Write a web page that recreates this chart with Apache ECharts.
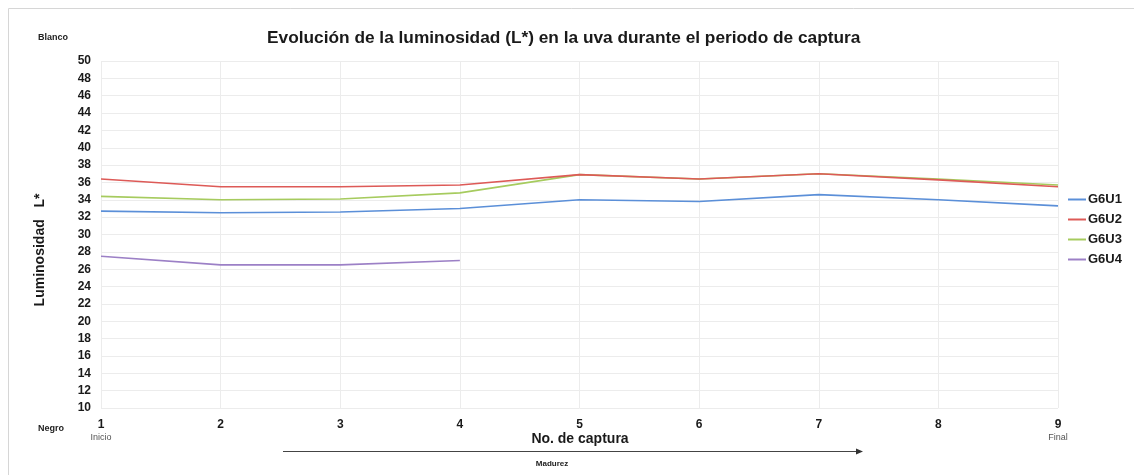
<!DOCTYPE html>
<html>
<head>
<meta charset="utf-8">
<script src="https://cdn.jsdelivr.net/npm/echarts@6/dist/echarts.min.js"></script>
<style>
  html, body { margin: 0; padding: 0; background: #ffffff; }
  #chart { width: 1134px; height: 475px; }
</style>
</head>
<body>
<div id="chart"></div>
<script>
// Capture numbers (x axis) and L* values per sample group
const capturas = ['1', '2', '3', '4', '5', '6', '7', '8', '9'];
const yTicks = { min: 10, max: 50, step: 2 };

const g6u1 = [32.7, 32.5, 32.6, 33.0, 34.0, 33.8, 34.6, 34.0, 33.3];
const g6u2 = [36.4, 35.5, 35.5, 35.7, 36.9, 36.4, 37.0, 36.3, 35.5];
const g6u3 = [34.4, 34.0, 34.1, 34.8, 36.9, 36.4, 37.0, 36.4, 35.7];
const g6u4 = [27.5, 26.5, 26.5, 27.0, null, null, null, null, null];

const seriesNames = ['G6U1', 'G6U2', 'G6U3', 'G6U4'];
const seriesColors = ['#5b8fd8', '#dd5a57', '#a6cb5e', '#9c80c6'];
const seriesData = [g6u1, g6u2, g6u3, g6u4];

const FONT = 'Liberation Sans, Arial, sans-serif';

const chart = echarts.init(document.getElementById('chart'), null, { renderer: 'canvas' });

chart.setOption({
  backgroundColor: '#ffffff',
  animation: false,
  title: {
    text: 'Evolución de la luminosidad (L*) en la uva durante el periodo de captura',
    left: 262,
    top: 25,
    textStyle: { fontFamily: FONT, fontSize: 17.3, fontWeight: 'bold', color: '#1a1a1a' }
  },
  legend: {
    orient: 'vertical',
    left: 1063,
    top: 188,
    icon: 'rect',
    itemWidth: 18,
    itemHeight: 2,
    itemGap: 7,
    data: seriesNames,
    textStyle: { fontFamily: FONT, fontSize: 13, fontWeight: 'bold', color: '#1a1a1a', padding: [0, 0, 0, -3] }
  },
  grid: { left: 101, right: 76, top: 61, bottom: 67 },
  xAxis: {
    type: 'category',
    data: capturas,
    boundaryGap: false,
    axisLine: { show: false },
    axisTick: { show: false },
    splitLine: { show: true, lineStyle: { color: '#ececec', width: 1 } },
    axisLabel: {
      margin: 10,
      fontFamily: FONT,
      formatter: function (v) {
        if (v === '1') return '{n|1}\n{s|Inicio}';
        if (v === '9') return '{n|9}\n{s|Final}';
        return '{n|' + v + '}';
      },
      rich: {
        n: { fontFamily: FONT, fontSize: 12, fontWeight: 'bold', color: '#1a1a1a', lineHeight: 14 },
        s: { fontFamily: FONT, fontSize: 9, color: '#555555', lineHeight: 12 }
      }
    }
  },
  yAxis: {
    type: 'value',
    min: yTicks.min,
    max: yTicks.max,
    interval: yTicks.step,
    axisLine: { show: false },
    axisTick: { show: false },
    splitLine: { show: true, lineStyle: { color: '#ececec', width: 1 } },
    axisLabel: { margin: 10, fontFamily: FONT, fontSize: 12, fontWeight: 'bold', color: '#1a1a1a' }
  },
  series: seriesNames.map(function (name, i) {
    return {
      name: name,
      type: 'line',
      data: seriesData[i],
      symbol: 'none',
      connectNulls: false,
      color: seriesColors[i],
      lineStyle: { width: 1.6, color: seriesColors[i] },
      z: 10 - i
    };
  }),
  graphic: [
    // outer frame
    { type: 'rect', shape: { x: 8.5, y: 8.5, width: 1140, height: 480 },
      style: { fill: 'none', stroke: '#d6d6d6', lineWidth: 1 }, silent: true },
    { type: 'text', left: 38, top: 33,
      style: { text: 'Blanco', fontFamily: FONT, fontSize: 9, fontWeight: 'bold', fill: '#222' } },
    { type: 'text', left: 38, top: 424,
      style: { text: 'Negro', fontFamily: FONT, fontSize: 9, fontWeight: 'bold', fill: '#222' } },
    { type: 'text', x: 40, y: 250, rotation: Math.PI / 2,
      style: { text: 'Luminosidad   L*', fontFamily: FONT, fontSize: 14, fontWeight: 'bold', fill: '#1a1a1a',
               align: 'center', verticalAlign: 'middle' } },
    { type: 'text', x: 580, y: 439,
      style: { text: 'No. de captura', fontFamily: FONT, fontSize: 14, fontWeight: 'bold', fill: '#1a1a1a',
               align: 'center', verticalAlign: 'middle' } },
    { type: 'line', shape: { x1: 283, y1: 451.5, x2: 857, y2: 451.5 },
      style: { stroke: '#444', lineWidth: 1 } },
    { type: 'polygon', shape: { points: [[856, 448.5], [863, 451.5], [856, 454.5]] },
      style: { fill: '#333' } },
    { type: 'text', x: 552, y: 464,
      style: { text: 'Madurez', fontFamily: FONT, fontSize: 8, fontWeight: 'bold', fill: '#222',
               align: 'center', verticalAlign: 'middle' } }
  ]
});
</script>
</body>
</html>
